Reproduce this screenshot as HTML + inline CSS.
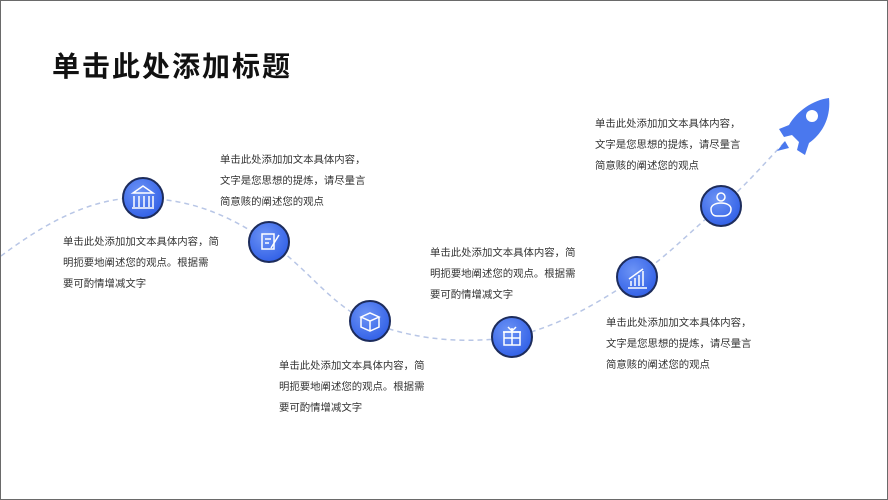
<!DOCTYPE html>
<html><head><meta charset="utf-8"><style>
html,body{margin:0;padding:0;background:#fff;}
#s{position:relative;width:886px;height:498px;border:1px solid #6a6a6a;overflow:hidden;font-family:"Liberation Sans","Noto Sans CJK SC",sans-serif;}
.t{position:absolute;font-size:10.4px;line-height:21px;color:#333;white-space:nowrap;}
h1{position:absolute;left:51px;top:44px;margin:0;font-size:28px;font-weight:bold;color:#111;letter-spacing:2px;}
</style></head><body><div id="s">
<h1>单击此处添加标题</h1>
<svg width="886" height="498" style="position:absolute;left:0;top:0">
<defs><radialGradient id="g" cx="40%" cy="35%" r="70%"><stop offset="0" stop-color="#6d94f5"/><stop offset="1" stop-color="#2f5ee6"/></radialGradient></defs>
<path d="M0 255 C40 225 90 195 142 197 C200 199 235 220 268 241 C305 265 330 305 369 321 C400 334 450 345 511 336 C560 325 600 300 636 276 C670 252 695 225 720 205 C745 185 765 160 785 140" fill="none" stroke="#b8c6e6" stroke-width="1.5" stroke-dasharray="5,4"/>
<g stroke="#1d2c5c" stroke-width="2" fill="url(#g)">
<circle cx="142" cy="197" r="20"/><circle cx="268" cy="241" r="20"/><circle cx="369" cy="320" r="20"/><circle cx="511" cy="336" r="20"/><circle cx="636" cy="276" r="20"/><circle cx="720" cy="205" r="20"/>
</g>
<g stroke="#fff" stroke-width="1.5" fill="none">
<path d="M132 192 L142 185 L152 192 Z M133 195 V206 M138 195 V206 M143 195 V206 M148 195 V206 M152 195 V206 M131 207 H153"/>
<rect x="261" y="233" width="12" height="15"/><path d="M264 238 H270 M264 242 H268 M270 247 L278 234"/>
<path d="M360 316 L369 312 L378 316 L369 320 Z M360 316 V326 L369 330 L378 326 V316 M369 320 V330"/>
<rect x="503" y="331" width="16" height="13"/><path d="M502 331 H520 M511 327 V344 M507 326 L511 330 L515 326 M503 337 H519"/>
<path d="M627 287 H646 M630 285 V280 M634 285 V277 M638 285 V274 M642 285 V270 M628 278 L642 268"/>
<path d="M710 208 C710 200 730 200 730 208 C730 213 726 215 722 215 H716 C712 215 710 212 710 208 Z"/><circle cx="720" cy="196" r="4"/>
</g>
<path d="M828 97 C812 99 796 110 788 124 L778 128 L783 136 L791 134 L798 141 L796 149 L804 154 L808 142 C822 132 830 116 828 97 Z" fill="#4a78ee"/>
<circle cx="811" cy="115" r="6" fill="#fff"/>
<path d="M784 140 L776 150 L788 147 Z" fill="#4a78ee"/>
</svg>
<div class="t" style="left:62px;top:231px">单击此处添加加文本具体内容，简<br>明扼要地阐述您的观点。根据需<br>要可酌情增减文字</div>
<div class="t" style="left:219px;top:149px">单击此处添加加文本具体内容，<br>文字是您思想的提炼，请尽量言<br>简意赅的阐述您的观点</div>
<div class="t" style="left:278px;top:355px">单击此处添加文本具体内容，简<br>明扼要地阐述您的观点。根据需<br>要可酌情增减文字</div>
<div class="t" style="left:429px;top:242px">单击此处添加文本具体内容，简<br>明扼要地阐述您的观点。根据需<br>要可酌情增减文字</div>
<div class="t" style="left:594px;top:113px">单击此处添加加文本具体内容，<br>文字是您思想的提炼，请尽量言<br>简意赅的阐述您的观点</div>
<div class="t" style="left:605px;top:312px">单击此处添加加文本具体内容，<br>文字是您思想的提炼，请尽量言<br>简意赅的阐述您的观点</div>
</div></body></html>
